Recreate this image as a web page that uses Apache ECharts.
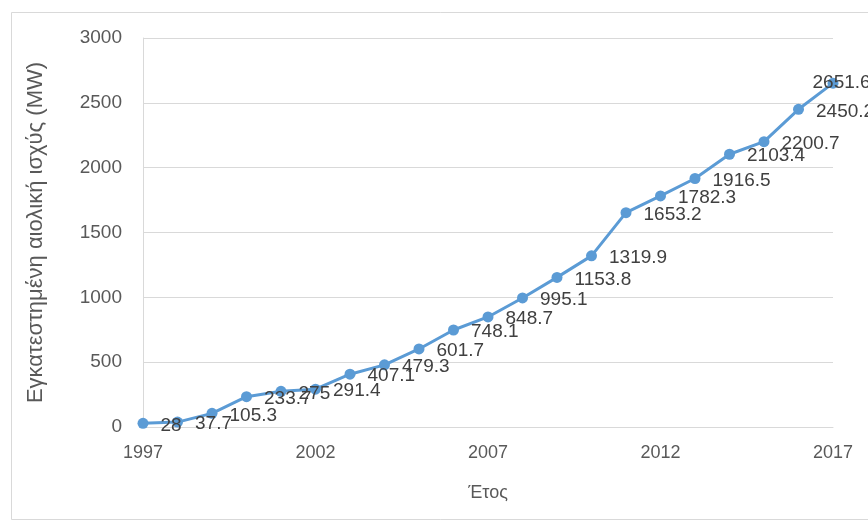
<!DOCTYPE html>
<html>
<head>
<meta charset="utf-8">
<script src="https://cdn.jsdelivr.net/npm/echarts@6/dist/echarts.min.js"></script>
<style>
  html, body { margin: 0; padding: 0; background: #fff; }
  #chart { width: 868px; height: 524px; }
</style>
</head>
<body>
<div id="chart"></div>
<script>
// Installed wind power capacity in Greece per year (MW)
const years = ['1997','1998','1999','2000','2001','2002','2003','2004','2005','2006','2007',
               '2008','2009','2010','2011','2012','2013','2014','2015','2016','2017'];
const capacity = [28, 37.7, 105.3, 233.7, 275, 291.4, 407.1, 479.3, 601.7, 748.1, 848.7,
                  995.1, 1153.8, 1319.9, 1653.2, 1782.3, 1916.5, 2103.4, 2200.7, 2450.2, 2651.6];
const yTitle = 'Εγκατεστημένη αιολική ισχύς (MW)';
const xTitle = 'Έτος';

const font = 'Liberation Sans, Arial, sans-serif';
const axisText = '#595959';
const gridColor = '#D9D9D9';
const lineColor = '#5B9BD5';

// the last label is pulled left so it stays inside the frame
const seriesData = capacity.map((v, i) => i === capacity.length - 1
  ? { value: v, label: { offset: [-38, 0] } }
  : v);

const chart = echarts.init(document.getElementById('chart'), null, { renderer: 'canvas' });
chart.setOption({
  backgroundColor: '#fff',
  animation: false,
  graphic: [{
    type: 'rect',
    shape: { x: 11.5, y: 12.5, width: 900, height: 507 },
    style: { fill: 'none', stroke: gridColor, lineWidth: 1 },
    silent: true,
    z: -1
  }],
  grid: { left: 143, right: 35, top: 38, bottom: 97, containLabel: false },
  xAxis: {
    type: 'category',
    data: years,
    boundaryGap: false,
    name: xTitle,
    nameLocation: 'middle',
    nameGap: 57,
    nameTextStyle: { color: axisText, fontFamily: font, fontSize: 18 },
    axisLine: { show: true, lineStyle: { color: gridColor, width: 1 } },
    axisTick: { show: false },
    axisLabel: { interval: 4, color: axisText, fontFamily: font, fontSize: 18, margin: 17 },
    splitLine: { show: false }
  },
  yAxis: {
    type: 'value',
    min: 0,
    max: 3000,
    interval: 500,
    name: yTitle,
    nameLocation: 'middle',
    nameGap: 96,
    nameTextStyle: { color: axisText, fontFamily: font, fontSize: 22 },
    axisLine: { show: true, lineStyle: { color: gridColor, width: 1 } },
    axisTick: { show: false },
    axisLabel: { color: axisText, fontFamily: font, fontSize: 19, margin: 21,
                 formatter: v => String(v) },
    splitLine: { show: true, lineStyle: { color: gridColor, width: 1 } }
  },
  series: [{
    type: 'line',
    data: seriesData,
    symbol: 'circle',
    symbolSize: 11,
    lineStyle: { color: lineColor, width: 3 },
    itemStyle: { color: lineColor },
    label: {
      show: true,
      position: 'right',
      distance: 12,
      offset: [0, 2],
      color: '#404040',
      fontFamily: font,
      fontSize: 19
    }
  }]
});
</script>
</body>
</html>
